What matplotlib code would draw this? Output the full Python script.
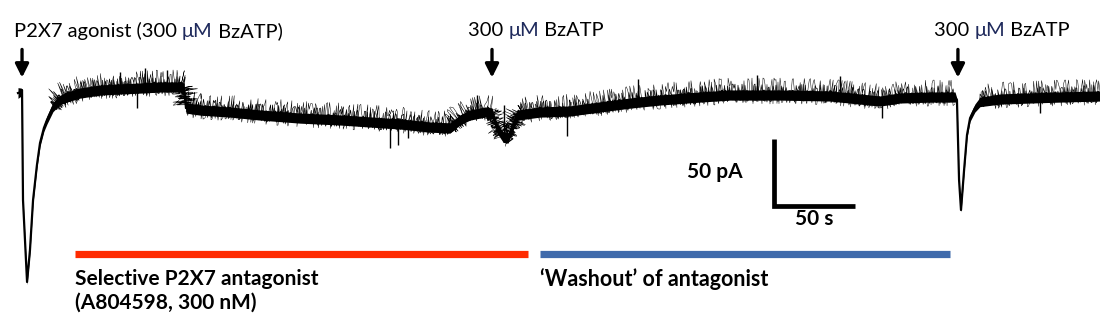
"""
Whole-cell current trace: P2X7 agonist responses before / during / after antagonist
"""
import numpy as np
import matplotlib
matplotlib.use('Agg')
import matplotlib.pyplot as plt

# trace: time (s) vs current (pA), 0 = holding current
trace_t = [0.0, 1.9, 2.5, 3.1, 5.6, 7.4, 9.3, 11.7, 13.6, 16.0, 17.9, 21.6, 25.9, 30.2,
           38.3, 50.6, 63.0, 75.3, 87.7, 100.0, 102.5, 103.7, 112.3, 130.9, 149.4, 174.1,
           198.8, 217.3, 235.8, 254.3, 266.7, 272.8, 279.0, 288.3, 292.6, 295.7, 299.4,
           302.5, 305.6, 308.6, 322.2, 340.7, 359.3, 377.8, 396.3, 421.0, 439.5, 470.4,
           501.2, 519.8, 532.1, 544.4, 563.0, 578.4, 579.6, 580.9, 582.1, 584.0, 585.8,
           587.7, 590.7, 593.8, 606.2, 624.7, 643.2, 667.9]
trace_pA = [0.0, 0.7, 2.2, -79.9, -141.0, -117.2, -79.9, -53.7, -37.3, -26.1, -20.1, -10.4,
            -5.2, -3.0, 0.0, 2.2, 3.0, 3.7, 4.5, 4.5, 3.7, -11.2, -12.7, -14.2, -16.4, -18.7,
            -20.1, -21.6, -23.1, -25.4, -26.1, -20.1, -16.4, -14.2, -14.9, -26.1, -32.8,
            -33.6, -23.9, -16.4, -14.2, -13.4, -10.4, -7.5, -5.2, -3.0, -1.5, -1.5, -2.2,
            -4.5, -6.0, -3.7, -3.0, -3.0, -5.2, -64.9, -87.3, -57.5, -31.3, -18.7, -11.2,
            -6.7, -4.5, -3.7, -3.0, -2.2]
# half width of the dense part of the noise band (pA)
noise_pA = [4, 3, 1, 1.5, 2, 2, 2, 2, 2.5, 2.5, 3, 3.5, 3.5, 3.8,
            3.8, 3.8, 3.8, 3.8, 3.8, 3.8, 3.8, 3.8, 3.8, 3.8, 3.8, 3.8,
            3.8, 3.8, 3.8, 3.8, 3.8, 3.8, 3.8, 3.8, 3.8, 3.8, 3.8,
            3.8, 3.8, 3.8, 3.8, 3.8, 3.8, 3.8, 3.8, 3.8, 3.8, 3.8,
            3.8, 3.8, 3.8, 3.8, 3.8, 3.8, 1, 1, 1.5, 2, 2,
            2.5, 3, 3.5, 3.8, 3.8, 3.8, 3.8]

# single events sticking out of the noise
spike_t = [73.5, 229.6, 234.6, 240.7, 338.9, 533.3, 630.9,
           63.0, 78.4, 92.0, 283.3, 300.0, 382.7, 456.2, 507.4]
spike_pA = [-11.2, -41.0, -38.8, -33.6, -32.1, -18.7, -14.9,
            15.7, 18.7, 17.2, -1.5, -9.0, 10.4, 13.4, 12.7]

# BzATP applications (s)
atp_t = [2.5, 292.6, 580.2]
atp_head = ['P2X7 agonist (300 ', '300 ', '300 ']
atp_tail = [' BzATP)', ' BzATP', ' BzATP']

# drug periods (s)
antagonist_on = (35.2, 314.8)
washout_on = (322.2, 575.3)

t = np.array(trace_t)
y = np.array(trace_pA)
nz = np.array(noise_pA, dtype=float)

plt.rcParams['font.family'] = ['Lato', 'DejaVu Sans']
fig = plt.figure(figsize=(11, 3.23), dpi=100)
ax = fig.add_axes([0, 0, 1, 1])
ax.set_xlim(-11.1, 667.9)
ax.set_ylim(-171.6, 69.4)
ax.axis('off')

# trace: dense core + hairy noise (sketch effect only changes how the line is drawn)
ax.fill_between(t, y - nz, y + nz, color='k', lw=0)
ax.plot(t, y, color='k', lw=1.6)
noisy = np.where(nz >= 3.5, y, np.nan)
for off, sc, ln, rnd, lw in [(0.0, 5, 1.0, 3, 0.9),
                             (1.5, 9, 1.3, 6, 0.5),
                             (3.0, 13, 0.7, 9, 0.35)]:
    hair, = ax.plot(t, noisy + off, color='k', lw=lw)
    hair.set_sketch_params(scale=sc, length=ln, randomness=rnd)
ax.vlines(spike_t, np.interp(spike_t, t, y), spike_pA, color='k', lw=1.0)

# arrows + labels
for ta in atp_t:
    ax.annotate('', xy=(ta, 11.5), xytext=(ta, 32.5),
                arrowprops=dict(arrowstyle='-|>', color='k', lw=2.4, mutation_scale=20,
                                shrinkA=0, shrinkB=0))
lab_x = [-2.5, 278.0, 565.5]
for lx, h, tl in zip(lab_x, atp_head, atp_tail):
    t1 = ax.text(lx, 46.5, h, fontsize=14.5, va='center', ha='left')
    t2 = ax.annotate('\u03bcM', xy=(1, 0), xycoords=t1, va='bottom', ha='left',
                     fontsize=14.5, color='#1f2a5c')
    ax.annotate(tl, xy=(1, 0), xycoords=t2, va='bottom', ha='left', fontsize=14.5)

# drug bars
ax.plot(antagonist_on, [-120, -120], color='#ff2a00', lw=5.2, solid_capstyle='butt')
ax.plot(washout_on, [-120, -120], color='#3f6aab', lw=5.2, solid_capstyle='butt')
ax.text(antagonist_on[0], -138.5, 'Selective P2X7 antagonist', fontsize=15, fontweight='bold',
        va='center', ha='left')
ax.text(antagonist_on[0], -156.5, '(A804598, 300 nM)', fontsize=15, fontweight='bold',
        va='center', ha='left')
ax.text(washout_on[0], -138.5, '\u2018Washout\u2019 of antagonist', fontsize=15.5,
        fontweight='bold', va='center', ha='left')

# scale bar 50 pA / 50 s
sx, sy = 466.5, -84.3
ax.plot([sx, sx, sx + 50], [sy + 50, sy, sy], color='k', lw=3.4,
        solid_capstyle='butt', solid_joinstyle='miter')
ax.text(sx - 19, sy + 25, '50 pA', fontsize=15, fontweight='bold', va='center', ha='right')
ax.text(sx + 25, sy - 10, '50 s', fontsize=15, fontweight='bold', va='center', ha='center')

plt.savefig('out.png', dpi=100)
